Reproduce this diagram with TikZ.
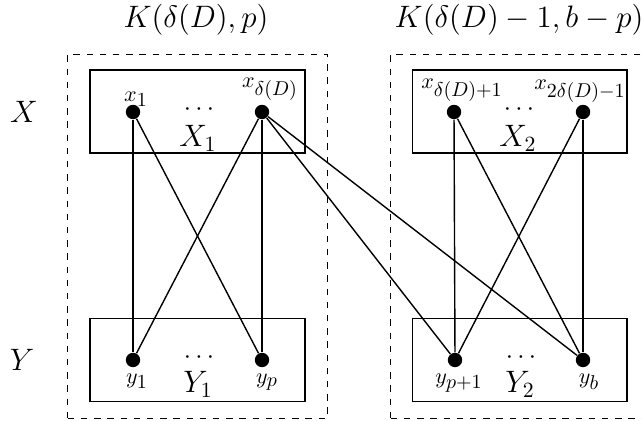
\documentclass[tikz,border=0pt]{standalone}
\usepackage{fix-cm}
\DeclareMathSizes{11}{11}{10}{8}

\begin{document}
\begin{tikzpicture}[x=0.5pt,y=-0.5pt,
 vertex/.style={circle,fill=black,inner sep=0pt,minimum width=6.8pt,minimum height=7.2pt},
 part/.style={draw,line width=0.8pt,inner sep=0pt,minimum width=107.4pt,minimum height=41.6pt},
 graphbox/.style={draw,line width=0.7pt,dash pattern=on 3.2pt off 3.4pt,inner sep=0pt,minimum width=129.8pt,minimum height=182pt},
 link/.style={line width=0.7pt},
 vlabel/.style={font=\fontsize{11}{13}\selectfont,anchor=base,inner sep=0pt},
 big/.style={font=\fontsize{15.5}{18}\selectfont,inner sep=0pt},
 dots/.style={font=\fontsize{13}{15}\selectfont,inner sep=0pt}]
\useasboundingbox (0,0) rectangle (642,421);
% the two complete bipartite graphs
\node[graphbox] (K1) at (197.5,236.3) {};
\node[graphbox] (K2) at (520.5,236.3) {};
\node[big,anchor=base] (tK1) at (196,28) {$K(\delta(D),p)$};
\node[big,anchor=base] (tK2) at (519,28) {$K(\delta(D)-1,b-p)$};
\node[big] (lX) at (24,112) {$X$};
\node[big] (lY) at (22,360) {$Y$};
% parts
\node[part] (X1) at (197.4,111.5) {};
\node[part] (X2) at (519.8,111.5) {};
\node[part] (Y1) at (197.4,360) {};
\node[part] (Y2) at (519.8,360) {};
\node[big,anchor=base] (nX1) at (198,147) {$X_1$};
\node[big,anchor=base] (nX2) at (518,147) {$X_2$};
\node[big,anchor=base] (nY1) at (198,393) {$Y_1$};
\node[big,anchor=base] (nY2) at (520,393) {$Y_2$};
\node[dots] (dX1) at (199,110) {$\cdots$};
\node[dots] (dX2) at (519,110) {$\cdots$};
\node[dots] (dY1) at (199,358) {$\cdots$};
\node[dots] (dY2) at (521,358) {$\cdots$};
% vertices
\node[vertex] (x1) at (133,112) {};
\node[vertex] (xd) at (262,112) {};
\node[vertex] (xd1) at (454,112) {};
\node[vertex] (x2d) at (583,112) {};
\node[vertex] (y1) at (133,360) {};
\node[vertex] (yp) at (262,360) {};
\node[vertex] (yp1) at (455,360) {};
\node[vertex] (yb) at (583,360) {};
\node[vlabel] (lx1) at (136,101.5) {$x_1$};
\node[vlabel] (lxd) at (270,88) {$x_{\delta(D)}$};
\node[vlabel] (lxd1) at (462,89) {$x_{\delta(D)+1}$};
\node[vlabel] (lx2d) at (580,90) {$x_{2\delta(D)-1}$};
\node[vlabel] (ly1) at (137,383.5) {$y_1$};
\node[vlabel] (lyp) at (267,383.5) {$y_p$};
\node[vlabel] (lyp1) at (459,383.5) {$y_{p+1}$};
\node[vlabel] (lyb) at (589,383.5) {$y_b$};
% edges
\draw[link] (x1) -- (y1);
\draw[link] (x1) -- (yp);
\draw[link] (xd) -- (y1);
\draw[link] (xd) -- (yp);
\draw[link] (xd) -- (yp1);
\draw[link] (xd) -- (yb);
\draw[link] (xd1) -- (yp1);
\draw[link] (xd1) -- (yb);
\draw[link] (x2d) -- (yp1);
\draw[link] (x2d) -- (yb);
\end{tikzpicture}
\end{document}
